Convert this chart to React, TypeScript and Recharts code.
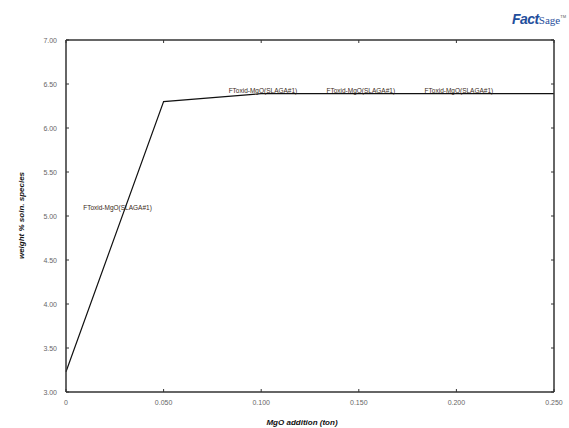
import React from "react";
import { LineChart, Line, XAxis, YAxis, ReferenceDot } from "recharts";

const mgoAddition = [0, 0.05, 0.1, 0.15, 0.2, 0.25];
const weightPct = [3.23, 6.3, 6.39, 6.39, 6.39, 6.39];
const xTicks = [0, 0.05, 0.1, 0.15, 0.2, 0.25];
const yTicks = [3.0, 3.5, 4.0, 4.5, 5.0, 5.5, 6.0, 6.5, 7.0];
const labelX = [0.0264, 0.1009, 0.151, 0.2013];
const labelY = [5.1, 6.43, 6.43, 6.43];
const labelText = "FToxid-MgO(SLAGA#1)";

const data = mgoAddition.map((x, i) => ({ x, y: weightPct[i] }));

const FONT = "'Liberation Sans', Arial, sans-serif";
const TICK_LEN = 3;
const AX = "#333";

const LeftTick = (props: any) => {
  const { x, y, payload } = props;
  return (
    <g>
      <line x1={x} x2={x + TICK_LEN} y1={y} y2={y} stroke={AX} strokeWidth={1} />
      <text x={x - 9} y={y} textAnchor="end" dominantBaseline="central" fontSize={7} fill="#666" fontFamily={FONT}>
        {Number(payload.value).toFixed(2)}
      </text>
    </g>
  );
};

const RightTick = (props: any) => {
  const { x, y } = props;
  return <line x1={x} x2={x - TICK_LEN} y1={y} y2={y} stroke={AX} strokeWidth={1} />;
};

const BottomTick = (props: any) => {
  const { x, y, payload } = props;
  const v = Number(payload.value);
  return (
    <g>
      <line x1={x} x2={x} y1={y} y2={y - TICK_LEN} stroke={AX} strokeWidth={1} />
      <text x={x} y={y + 10} textAnchor="middle" dominantBaseline="central" fontSize={7} fill="#666" fontFamily={FONT}>
        {v === 0 ? "0" : v.toFixed(3)}
      </text>
    </g>
  );
};

const TopTick = (props: any) => {
  const { x, y } = props;
  return <line x1={x} x2={x} y1={y} y2={y + TICK_LEN} stroke={AX} strokeWidth={1} />;
};

const AnnLabel = (props: any) => {
  const { viewBox } = props;
  const cx = viewBox.x + (viewBox.width || 0) / 2;
  const cy = viewBox.y + (viewBox.height || 0) / 2;
  return (
    <text x={cx} y={cy} textAnchor="middle" dominantBaseline="central" fontSize={6.5} fill="#3a2a20" fontFamily={FONT}>
      {labelText}
    </text>
  );
};

export default function App() {
  return (
    <div style={{ position: "absolute", left: 0, top: 0, width: 569, height: 428, background: "#fff" }}>
      <LineChart
        width={569}
        height={428}
        data={data}
        margin={{ top: 39, right: 14, left: 0, bottom: 0 }}
      >
        <XAxis
          xAxisId="b"
          dataKey="x"
          type="number"
          domain={[0, 0.25]}
          ticks={xTicks}
          tickSize={0}
          tickMargin={0}
          tick={<BottomTick />}
          stroke={AX}
          axisLine={{ stroke: AX, strokeWidth: 1.5 }}
          tickLine={false}
          height={36}
          interval={0}
        />
        <XAxis
          xAxisId="t"
          orientation="top"
          dataKey="x"
          type="number"
          domain={[0, 0.25]}
          ticks={xTicks}
          tickSize={0}
          tickMargin={0}
          tick={<TopTick />}
          stroke={AX}
          axisLine={{ stroke: AX, strokeWidth: 1.5 }}
          tickLine={false}
          height={1}
          interval={0}
        />
        <YAxis
          yAxisId="l"
          type="number"
          domain={[3, 7]}
          ticks={yTicks}
          tickSize={0}
          tickMargin={0}
          tick={<LeftTick />}
          stroke={AX}
          axisLine={{ stroke: AX, strokeWidth: 1.5 }}
          tickLine={false}
          width={66}
          interval={0}
        />
        <YAxis
          yAxisId="r"
          orientation="right"
          type="number"
          domain={[3, 7]}
          ticks={yTicks}
          tickSize={0}
          tickMargin={0}
          tick={<RightTick />}
          stroke={AX}
          axisLine={{ stroke: AX, strokeWidth: 1.5 }}
          tickLine={false}
          width={1}
          interval={0}
        />
        <Line
          xAxisId="t"
          yAxisId="r"
          type="linear"
          dataKey="y"
          stroke="none"
          strokeWidth={0}
          dot={false}
          legendType="none"
          isAnimationActive={false}
        />
        <Line
          xAxisId="b"
          yAxisId="l"
          type="linear"
          dataKey="y"
          stroke="#111"
          strokeWidth={1.2}
          dot={false}
          isAnimationActive={false}
        />
        {labelX.map((lx, i) => (
          <ReferenceDot
            key={i}
            xAxisId="b"
            yAxisId="l"
            x={lx}
            y={labelY[i]}
            r={0}
            fill="none"
            stroke="none"
            label={<AnnLabel />}
          />
        ))}
      </LineChart>
      <div
        style={{
          position: "absolute",
          left: 8,
          top: 150,
          width: 28,
          height: 130,
          display: "flex",
          alignItems: "center",
          justifyContent: "center",
        }}
      >
        <div
          style={{
            transform: "rotate(-90deg)",
            whiteSpace: "nowrap",
            fontFamily: FONT,
            fontSize: 8,
            fontWeight: "bold",
            fontStyle: "italic",
            color: "#111",
          }}
        >
          weight % soln. species
        </div>
      </div>
      <div
        style={{
          position: "absolute",
          left: 0,
          width: 604,
          top: 418,
          textAlign: "center",
          fontFamily: FONT,
          fontSize: 8,
          fontWeight: "bold",
          fontStyle: "italic",
          color: "#111",
        }}
      >
        MgO addition (ton)
      </div>
      <div
        style={{
          position: "absolute",
          left: 512,
          top: 11,
          fontFamily: FONT,
          color: "#1f4e9c",
          whiteSpace: "nowrap",
          lineHeight: 1,
        }}
      >
        <span style={{ fontWeight: "bold", fontStyle: "italic", fontSize: 14, letterSpacing: -0.5 }}>Fact</span>
        <span style={{ fontFamily: "'Liberation Serif', serif", fontSize: 11 }}>Sage</span>
        <sup style={{ fontSize: 4, color: "#555" }}>TM</sup>
      </div>
    </div>
  );
}
